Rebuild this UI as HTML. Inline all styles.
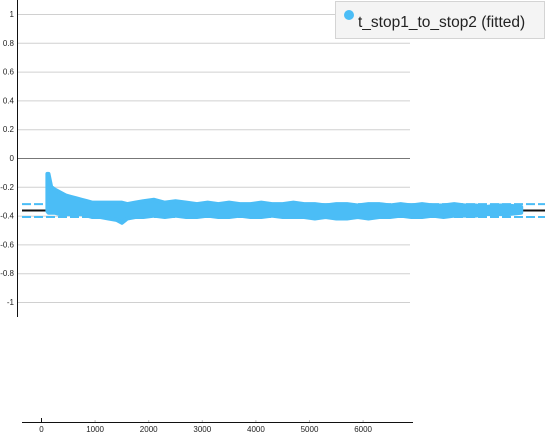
<!DOCTYPE html>
<html><head><meta charset="utf-8"><style>
body{margin:0;background:#fff;font-family:"Liberation Sans",sans-serif}
svg{display:block}
</style></head><body>
<svg id="c" width="546" height="443">
<g id="grid"></g>
<g id="marks"></g>
<g id="axes"></g>
<g>
<rect x="335.5" y="1.5" width="209" height="37" fill="#f4f4f4" stroke="#d4d4d4"/>
<circle cx="349" cy="15" r="5" fill="#4bbdf6"/>
<text x="358" y="27" font-size="15.5" fill="#222">t_stop1_to_stop2 (fitted)</text>
</g>
</svg>
<script>
const yTicks=[1,0.8,0.6,0.4,0.2,0,-0.2,-0.4,-0.6,-0.8,-1];
const yTickLabels=["1","0.8","0.6","0.4","0.2","0","-0.2","-0.4","-0.6","-0.8","-1"];
const xTicks=[0,1000,2000,3000,4000,5000,6000];
const bandX=[110,130,180,250,350,450,550,650,750,850,950,1100,1250,1400,1500,1600,1750,1900,2100,2300,2500,2700,2900,3100,3300,3500,3700,3900,4100,4300,4500,4700,4900,5100,5300,5500,5700,5900,6100,6300,6500,6700,6900,7100,7300,7500,7700,7900,8100,8300,8500,8700,8950];
const bandUpper=[-0.11,-0.11,-0.2,-0.22,-0.24,-0.26,-0.27,-0.28,-0.29,-0.3,-0.31,-0.31,-0.31,-0.31,-0.31,-0.32,-0.31,-0.3,-0.29,-0.31,-0.3,-0.31,-0.32,-0.31,-0.32,-0.31,-0.32,-0.32,-0.31,-0.32,-0.32,-0.31,-0.32,-0.32,-0.33,-0.32,-0.32,-0.33,-0.32,-0.32,-0.33,-0.32,-0.33,-0.32,-0.33,-0.33,-0.32,-0.33,-0.33,-0.34,-0.33,-0.33,-0.34];
const bandLower=[-0.37,-0.38,-0.38,-0.38,-0.39,-0.39,-0.39,-0.39,-0.39,-0.4,-0.41,-0.41,-0.42,-0.43,-0.45,-0.42,-0.41,-0.41,-0.4,-0.41,-0.4,-0.41,-0.41,-0.4,-0.41,-0.41,-0.4,-0.41,-0.41,-0.4,-0.41,-0.41,-0.41,-0.42,-0.41,-0.42,-0.42,-0.41,-0.42,-0.41,-0.41,-0.4,-0.41,-0.41,-0.4,-0.41,-0.4,-0.4,-0.4,-0.39,-0.39,-0.39,-0.38];
const fitMean=-0.365, fitHi=-0.32, fitLo=-0.41;
const X=v=>41.5+v*0.0536, Y=v=>158-v*144;
const NS="http://www.w3.org/2000/svg";
function mk(p,t,a){const e=document.createElementNS(NS,t);for(const k in a)e.setAttribute(k,a[k]);p.appendChild(e);return e;}
const grid=document.getElementById('grid'),marks=document.getElementById('marks'),axes=document.getElementById('axes');
yTicks.forEach((t,i)=>{
 const l=mk(grid,'line',{x1:18,x2:410,y1:Y(t)+0.5,y2:Y(t)+0.5,stroke:t===0?'#777':'#d0d0d0','stroke-width':1});
 
 
 const tx=mk(axes,'text',{x:14,y:Y(t)+3,'font-size':8,'text-anchor':'end',fill:'#222'});
 tx.textContent=yTickLabels[i];
 
 
});
let pts=bandX.map((x,i)=>X(x)+','+Y(bandUpper[i]));
for(let i=bandX.length-1;i>=0;i--)pts.push(X(bandX[i])+','+Y(bandLower[i]));
const black=mk(marks,'line',{x1:22,x2:545,y1:Y(fitMean),y2:Y(fitMean),stroke:'#111','stroke-width':2});


[fitHi,fitLo].forEach(v=>{
 const d=mk(marks,'line',{x1:22,x2:545,y1:Y(v),y2:Y(v),stroke:'#4bbdf6','stroke-width':2,'stroke-dasharray':'9,3'});
 
 
});
const poly=mk(marks,'polygon',{points:pts.join(' '),fill:'#4bbdf6',stroke:'#4bbdf6','stroke-width':4,'stroke-linejoin':'round'});


const ya=mk(axes,'line',{x1:17.5,x2:17.5,y1:0,y2:317,stroke:'#111','stroke-width':1});


const xa=mk(axes,'line',{x1:22,x2:413,y1:422.5,y2:422.5,stroke:'#111','stroke-width':1});


xTicks.forEach(t=>{
 const tk=mk(axes,'line',{x1:X(t),x2:X(t),y1:t===0?418:420,y2:422,stroke:t===0?'#111':'#bbb','stroke-width':1});
 
 
 const tx=mk(axes,'text',{x:X(t),y:432,'font-size':8,'text-anchor':'middle',fill:'#222'});
 tx.textContent=String(t);
 
 
});
</script>
</body></html>
